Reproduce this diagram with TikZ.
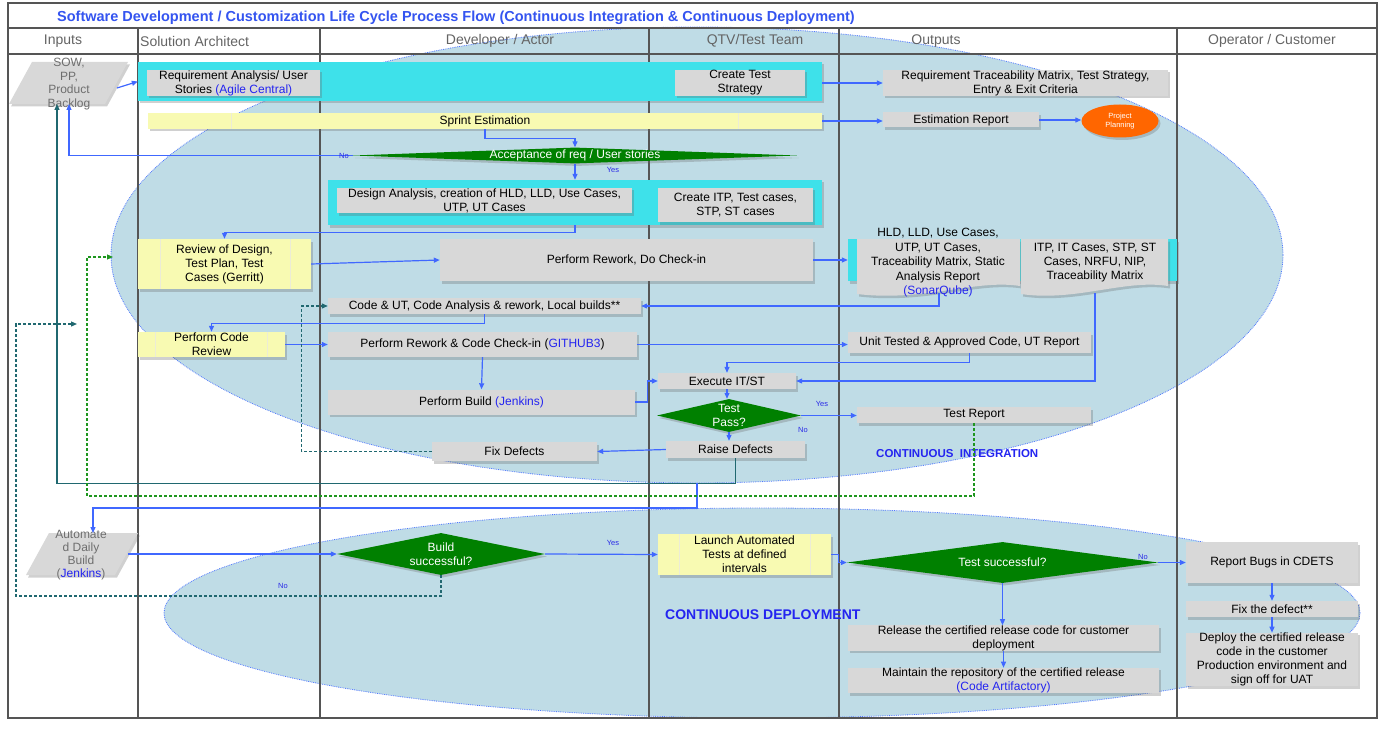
\documentclass[tikz,border=0pt]{standalone}
\usepackage{fontspec}
\setmainfont{Liberation Sans}
\usetikzlibrary{arrows.meta,shapes.geometric,shadows,calc}
\definecolor{boxgrey}{RGB}{216,216,216}
\definecolor{cyanb}{RGB}{62,225,234}
\definecolor{yfill}{RGB}{248,250,178}
\definecolor{ydiv}{RGB}{236,236,214}
\definecolor{ellfill}{RGB}{191,220,230}
\definecolor{elledge}{RGB}{80,120,255}
\definecolor{dgreen}{RGB}{0,128,0}
\definecolor{lineblue}{RGB}{64,104,255}
\definecolor{tealc}{RGB}{32,104,112}
\definecolor{gdc}{RGB}{30,150,30}
\definecolor{orangec}{RGB}{255,102,0}
\definecolor{titleblue}{RGB}{52,84,240}
\definecolor{hdrgrey}{RGB}{100,100,100}
\definecolor{gridc}{RGB}{85,85,85}
\definecolor{linkblue}{RGB}{36,36,240}
\definecolor{labblue}{RGB}{40,40,230}
\definecolor{pgtext}{RGB}{110,110,110}
\newcommand{\boxfont}{\fontsize{12}{14}\selectfont}
\newcommand{\hdrfont}{\fontsize{14}{16}\selectfont}
\tikzset{
  dshadow/.style={drop shadow={shadow xshift=2pt, shadow yshift=-2.5pt, opacity=0.3, fill=black!60}},
  gbox/.style 2 args={rectangle, fill=boxgrey, inner sep=0pt, align=center, text=black, font=\boxfont, minimum width=#1pt, minimum height=#2pt, dshadow},
  ybox/.style 2 args={gbox={#1}{#2}, fill=yfill},
  band/.style 2 args={rectangle, fill=cyanb, inner sep=0pt, minimum width=#1pt, minimum height=#2pt, dshadow},
  dia/.style 2 args={diamond, fill=dgreen, inner sep=0pt, minimum width=#1pt, minimum height=#2pt, dshadow},
  wt/.style={text=white, align=center, font=\boxfont, inner sep=0pt},
  txt/.style={text=black, align=center, font=\boxfont, inner sep=0pt},
  pgt/.style={text=pgtext, align=center, font=\fontsize{12}{13.5}\selectfont, inner sep=0pt},
  lab/.style={text=labblue, font=\fontsize{7.5}{9}\selectfont, inner sep=0pt},
  hdr/.style={text=hdrgrey, font=\hdrfont, inner sep=0pt},
  divl/.style={draw=ydiv, line width=1pt},
  grid/.style={draw=gridc, line width=1.1pt},
  arr/.style={draw=lineblue, line width=1.2pt, -{Triangle[length=6pt,width=5pt]}},
  tl/.style={draw=tealc, line width=1.2pt, -{Triangle[length=6pt,width=5pt]}},
  tdash/.style={tl, dash pattern=on 3pt off 2pt},
  gdash/.style={draw=gdc, line width=1.1pt, dash pattern=on 3pt off 2pt, -{Triangle[length=6pt,width=5pt]}},
  elld/.style={draw=elledge, densely dotted, line width=0.8pt},
}
\begin{document}
\begin{tikzpicture}[x=1pt,y=-1pt]
\useasboundingbox (0,0) rectangle (1385,733);
\fill[white] (0,0) rectangle (1385,733);
% swim-lane ellipses
\fill[ellfill] (697,255) ellipse [x radius=586pt, y radius=228pt];
\draw[elld] (697,255) ellipse [x radius=586pt, y radius=228pt];
\fill[ellfill] (762,613) ellipse [x radius=598pt, y radius=105pt];
\draw[elld] (762,613) ellipse [x radius=598pt, y radius=105pt];
% grid
\draw[grid] (8,3) rectangle (1377,718);
\draw[grid] (8,28) -- (1377,28);
\draw[grid] (8,54) -- (1377,54);
\foreach \cx in {138,320,649,839,1177} { \draw[grid] (\cx,28) -- (\cx,718); }
% title and headers
\node[anchor=west, text=titleblue, font=\fontsize{14.5}{16}\selectfont\bfseries, inner sep=0pt] (title) at (57,18) {Software Development / Customization Life Cycle Process Flow (Continuous Integration \& Continuous Deployment)};
\node[hdr] (h1) at (63,41) {Inputs};
\node[hdr, anchor=west] (h2) at (140,41) {Solution Architect};
\node[hdr] (h3) at (500,41) {Developer / Actor};
\node[hdr] (h4) at (755,41) {QTV/Test Team};
\node[hdr] (h5) at (936,41) {Outputs};
\node[hdr] (h6) at (1272,41) {Operator / Customer};
% input parallelograms
\fill[boxgrey, dshadow] (32,62) -- (128,62) -- (105,104) -- (9,104) -- cycle;
\node[pgt] (sow) at (69,84) {SOW,\\PP,\\Product\\Backlog};
\coordinate (sowR) at (117,88);
\coordinate (sowB) at (69,104);
\coordinate (sowT) at (57,104);
\fill[boxgrey, dshadow] (49,533) -- (138,533) -- (115,575) -- (26,575) -- cycle;
\node[pgt, font=\fontsize{12}{13}\selectfont] (adb) at (81,555.5) {Automate\\d Daily\\Build\\(\textcolor{linkblue}{Jenkins})};
\coordinate (adbT) at (93,533);
\coordinate (adbR) at (128,554);
% row 1
\node[band={684}{39}] (band1) at (480,81.5) {};
\node[gbox={173}{26}] (req) at (233.5,83) {Requirement Analysis/ User\\Stories \textcolor{linkblue}{(Agile Central)}};
\node[gbox={130}{26}] (cts) at (740,83) {Create Test\\Strategy};
\node[gbox={285}{26}] (rtm) at (1025.5,83) {Requirement Traceability Matrix,  Test Strategy,\\Entry \& Exit Criteria};
% sprint
\node[ybox={674}{16}] (sprint) at (485,121) {Sprint Estimation};
\draw[divl] ([xshift=84pt]sprint.north west) -- ([xshift=84pt]sprint.south west);
\draw[divl] ([xshift=-84pt]sprint.north east) -- ([xshift=-84pt]sprint.south east);
\node[gbox={156}{15}] (est) at (961,120) {Estimation Report};
\node[ellipse, fill=orangec, minimum width=77pt, minimum height=33pt, inner sep=0pt, dshadow] (pp) at (1120,121) {};
\node[text=white, align=center, font=\fontsize{7.5}{9}\selectfont, inner sep=0pt] (ppt) at (pp.center) {Project\\Planning};
% acceptance
\node[dia={444}{16}] (acc) at (575,155.5) {};
\node[wt] (acct) at (acc.center) {Acceptance of req / User stories};
% row 2
\node[band={494}{45}] (band2) at (575,202.5) {};
\node[gbox={295}{25}] (design) at (484.5,200.5) {Design Analysis, creation of HLD, LLD, Use Cases,\\UTP, UT Cases};
\node[gbox={155}{34}] (citp) at (735.5,205) {Create ITP,  Test cases,\\STP, ST cases};
% review row
\node[ybox={173}{50}] (review) at (224.5,264) {Review of Design,\\Test Plan, Test\\Cases (Gerritt)};
\draw[divl] ([xshift=23pt]review.north west) -- ([xshift=23pt]review.south west);
\draw[divl] ([xshift=-21pt]review.north east) -- ([xshift=-21pt]review.south east);
\node[gbox={373}{42}] (rework1) at (626.5,260) {Perform Rework, Do Check-in};
\node[band={329}{42}] (band3) at (1012.5,260) {};
\fill[boxgrey, dshadow] (857,239) -- (1020,239) -- (1020,286) .. controls (975,279) and (925,302) .. (857,294) -- cycle;
\fill[boxgrey, dshadow] (1021,239) -- (1168,239) -- (1168,286) .. controls (1125,279) and (1075,302) .. (1021,294) -- cycle;
\node[txt, font=\fontsize{12}{14.5}\selectfont] (doc1) at (938,263) {HLD, LLD, Use Cases,\\UTP, UT Cases,\\Traceability Matrix,  Static\\Analysis Report\\\textcolor{linkblue}{(SonarQube)}};
\node[txt] (doc2) at (1095,263) {ITP, IT Cases, STP, ST\\Cases, NRFU, NIP,\\Traceability Matrix};
\coordinate (doc1b) at (939,293);
\coordinate (doc2b) at (1095,293);
% code rows
\node[gbox={313}{16}] (codeut) at (484.5,306) {Code \& UT,  Code Analysis \& rework, Local builds**};
\node[ybox={147}{25}] (pcr) at (211.5,344.5) {Perform Code\\Review};
\draw[divl] ([xshift=18pt]pcr.north west) -- ([xshift=18pt]pcr.south west);
\draw[divl] ([xshift=-18pt]pcr.north east) -- ([xshift=-18pt]pcr.south east);
\node[gbox={309}{25}] (rework2) at (482.5,344.5) {Perform Rework \& Code Check-in (\textcolor{linkblue}{GITHUB3})};
\node[gbox={243}{21}] (utc) at (969.5,342.5) {Unit Tested \& Approved Code, UT Report};
\node[gbox={307}{25}] (build) at (481.5,402) {Perform Build \textcolor{linkblue}{(Jenkins)}};
\node[gbox={138}{16}] (exec) at (727,381) {Execute IT/ST};
\node[dia={144}{33}] (tpass) at (729,415.5) {};
\node[wt] (tpasst) at (tpass.center) {Test\\Pass?};
\node[gbox={234}{16}] (trep) at (974,415) {Test Report};
\node[gbox={139}{17}] (raise) at (735.5,449.5) {Raise Defects};
\node[gbox={165}{19}] (fix) at (514.5,451.5) {Fix Defects};
\node[anchor=west, text=linkblue, font=\fontsize{11.5}{13}\selectfont\bfseries, inner sep=0pt] (ci) at (876,454) {CONTINUOUS\ \ INTEGRATION};
% CD part
\node[dia={208}{42}] (bsucc) at (441,554) {};
\node[wt] (bsucct) at (bsucc.center) {Build\\successful?};
\node[ybox={173}{41}] (launch) at (744.5,554.5) {Launch Automated\\Tests at defined\\intervals};
\draw[divl] ([xshift=22pt]launch.north west) -- ([xshift=22pt]launch.south west);
\draw[divl] ([xshift=-21pt]launch.north east) -- ([xshift=-21pt]launch.south east);
\node[dia={311}{41}] (tsucc) at (1002.5,562.5) {};
\node[wt] (tsucct) at (tsucc.center) {Test successful?};
\node[gbox={172}{41}] (rbugs) at (1272,562.5) {Report Bugs in  CDETS};
\node[gbox={172}{16}] (fixdef) at (1272,609) {Fix the defect**};
\node[gbox={172}{51}] (deploy) at (1272,659.5) {Deploy the certified release\\code in the customer\\Production environment and\\sign off for UAT};
\node[gbox={311}{24}] (release) at (1003.5,638) {Release the certified release code for customer\\deployment};
\node[gbox={311}{25}] (maintain) at (1003.5,680.5) {Maintain the repository of the certified release\\\textcolor{linkblue}{(Code Artifactory)}};
\node[anchor=west, text=linkblue, font=\fontsize{14}{16}\selectfont\bfseries, inner sep=0pt] (cd) at (665,615) {CONTINUOUS DEPLOYMENT};
% helper coordinates
\coordinate (br) at (697,483);
\coordinate (gdc) at (87,496);
\coordinate (ciL) at (113,257);
\coordinate (tdc) at (16,596);
\coordinate (tdend) at (77,324);
% connectors
\draw[arr] (sowR) -- (band1.west);
\draw[arr] (band1.east |- rtm.west) -- (rtm.west);
\draw[arr] (sprint.east) -- (sprint.east -| est.west);
\draw[arr] (est.east) -- (est.east -| pp.west);
\draw[arr] (sprint.south) -- ++(0,9) -| (acc.north);
\draw[arr] (acc.west) -| (sowB);
\node[lab] (no1) at (344,156) {No};
\draw[arr] (acc.south) -- (acc.south |- band2.north);
\node[lab] (yes1) at (613,170) {Yes};
\draw[arr] (band2.south) -- ++(0,7) -| (review.north);
\draw[arr] (review.east) -- (rework1.west);
\draw[arr] (rework1.east) -- (band3.west);
\draw[arr] (doc1b) |- (codeut.east);
\draw[arr] (doc2b) |- (exec.east);
\draw[arr] (codeut.south) -- ++(0,9) -| (pcr.north);
\draw[arr] (pcr.east) -- (rework2.west);
\draw[arr] (rework2.east) -- (rework2.east -| utc.west);
\draw[arr] (utc.south) -- ++(0,9) -| (exec.north);
\draw[arr] (rework2.south) -- (build.north);
\draw[arr] (build.east) -- ++(12,0) |- (exec.west);
\draw[arr] (exec.south) -- (exec.south |- tpass.north);
\draw[arr] (tpass.east) -- (tpass.east -| trep.west);
\node[lab] (yes2) at (822,404) {Yes};
\node[lab] (no2) at (803,430) {No};
\draw[arr] (tpass.south) -- (tpass.south |- raise.north);
\draw[arr] (raise.west) -- (fix.east);
\draw[tl] (raise.south) -- ++(0,25) -| (sowT);
\draw[arr] (br) -- ++(0,25) -| (adbT);
\draw[gdash] (trep.south) |- (gdc) |- (ciL);
\draw[tdash] (fix.west) -- ++(-130,0) |- (codeut.west);
\draw[tdash] (bsucc.south) |- (tdc) |- (tdend);
\node[lab] (no3) at (283,586) {No};
\draw[arr] (adbR) -- (bsucc.west);
\draw[arr] (bsucc.east) -- (launch.west);
\node[lab] (yes3) at (613,543) {Yes};
\draw[arr] (launch.east) -- ++(7,0) |- (tsucc.west);
\draw[arr] (tsucc.east) -- (rbugs.west);
\node[lab] (no4) at (1143,557) {No};
\draw[arr] (tsucc.south) -- (tsucc.south |- release.north);
\draw[arr] (release.south) -- (release.south |- maintain.north);
\draw[arr] (rbugs.south) -- (fixdef.north);
\draw[arr] (fixdef.south) -- (deploy.north);
\end{tikzpicture}
\end{document}
